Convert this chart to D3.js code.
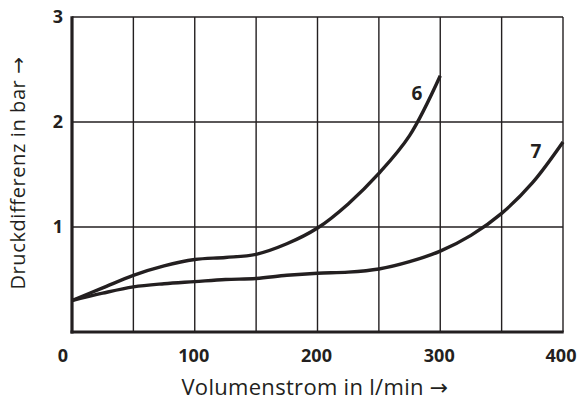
<!DOCTYPE html>
<html>
<head>
<meta charset="utf-8">
<script src="https://cdn.jsdelivr.net/npm/d3@7"></script>
<style>
  body { margin: 0; background: #fff; }
  svg { display: block; font-family: "Open Sans", "Noto Sans", sans-serif; }
  .arrow { font-family: "DejaVu Sans", sans-serif; }
</style>
</head>
<body>
<svg id="chart" width="582" height="400"></svg>
<script>
// Flow rate in l/min
const flow6 = [0, 25, 50, 75, 100, 125, 150, 175, 200, 225, 250, 275, 300];
const dp6 = [0.30, 0.42, 0.54, 0.63, 0.69, 0.71, 0.74, 0.84, 0.99, 1.22, 1.51, 1.87, 2.44];
const flow7 = [0, 25, 50, 75, 100, 125, 150, 175, 200, 225, 250, 275, 300, 325, 350, 375, 400];
const dp7 = [0.30, 0.37, 0.43, 0.46, 0.48, 0.50, 0.51, 0.54, 0.56, 0.57, 0.60, 0.67, 0.77, 0.92, 1.13, 1.42, 1.81];
const curveNames = ['6', '7'];
const labelPos = [[281, 2.21], [378, 1.66]];
const xTicks = [0, 100, 200, 300, 400];
const yTicks = [1, 2, 3];
const xGrid = [50, 100, 150, 200, 250, 300, 350, 400];

const svg = d3.select('#chart');
const margin = { top: 17, right: 19, bottom: 68, left: 72 };
const width = 582, height = 400;
const ink = '#231f20';

const x = d3.scaleLinear().domain([0, 400]).range([margin.left, width - margin.right]);
const y = d3.scaleLinear().domain([0, 3]).range([height - margin.bottom, margin.top]);

// grid
svg.append('g').selectAll('line').data(xGrid).join('line')
  .attr('x1', d => x(d)).attr('x2', d => x(d))
  .attr('y1', y(0)).attr('y2', y(3))
  .attr('stroke', ink).attr('stroke-width', 1.4);
svg.append('g').selectAll('line').data(yTicks).join('line')
  .attr('x1', x(0)).attr('x2', x(400))
  .attr('y1', d => y(d)).attr('y2', d => y(d))
  .attr('stroke', ink).attr('stroke-width', 1.4);

// axes lines (thick)
svg.append('line')
  .attr('x1', x(0)).attr('x2', x(0)).attr('y1', y(3) - 0.7).attr('y2', y(0) + 1.5)
  .attr('stroke', ink).attr('stroke-width', 3.2);
svg.append('line')
  .attr('x1', x(0) - 1.5).attr('x2', x(400) + 0.7).attr('y1', y(0)).attr('y2', y(0))
  .attr('stroke', ink).attr('stroke-width', 3.2);

// tick labels
svg.append('g').selectAll('text').data(xTicks).join('text')
  .attr('x', d => x(d) + (d === 0 ? -9 : d === 400 ? -2 : -1))
  .attr('y', 362)
  .attr('text-anchor', 'middle')
  .style('font-size', '18px').style('font-weight', 'bold').attr('fill', ink)
  .text(d => d);
svg.append('g').selectAll('text').data(yTicks).join('text')
  .attr('x', 63)
  .attr('y', d => y(d))
  .attr('dy', '0.35em')
  .attr('text-anchor', 'end')
  .style('font-size', '18px').style('font-weight', 'bold').attr('fill', ink)
  .text(d => d);

// axis titles
const xTitle = svg.append('text')
  .attr('x', 315).attr('y', 395)
  .attr('text-anchor', 'middle')
  .style('font-size', '22px').style('letter-spacing', '0.3px').attr('fill', ink);
xTitle.append('tspan').text('Volumenstrom in l/min ');
xTitle.append('tspan').attr('class', 'arrow').text('→');

const yTitle = svg.append('text')
  .attr('transform', 'translate(25,173) rotate(-90)')
  .attr('text-anchor', 'middle')
  .style('font-size', '20px').style('letter-spacing', '0.6px').attr('fill', ink);
yTitle.append('tspan').text('Druckdifferenz in bar ');
yTitle.append('tspan').attr('class', 'arrow').text('→');

// curves
const line = d3.line()
  .x(d => x(d[0])).y(d => y(d[1]))
  .curve(d3.curveCatmullRom.alpha(0.5));
const series = [d3.zip(flow6, dp6), d3.zip(flow7, dp7)];
svg.append('g').selectAll('path').data(series).join('path')
  .attr('d', line)
  .attr('fill', 'none').attr('stroke', ink).attr('stroke-width', 3.4)
  .attr('stroke-linejoin', 'round');

// curve labels
svg.append('g').selectAll('text').data(curveNames).join('text')
  .attr('x', (d, i) => x(labelPos[i][0]))
  .attr('y', (d, i) => y(labelPos[i][1]))
  .attr('text-anchor', 'middle')
  .style('font-size', '19px').style('font-weight', 'bold').attr('fill', ink)
  .text(d => d);
</script>
</body>
</html>
